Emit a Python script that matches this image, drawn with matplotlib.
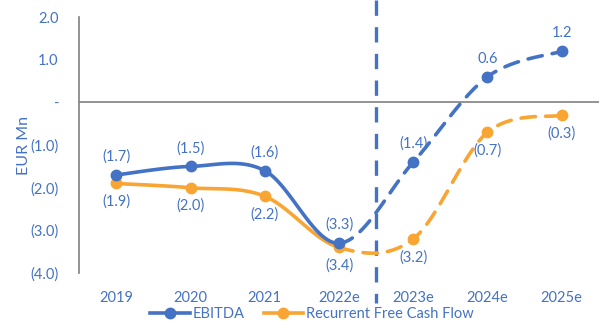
import numpy as np
import matplotlib
matplotlib.use('Agg')
import matplotlib.pyplot as plt
from matplotlib.lines import Line2D

plt.rcParams['font.family'] = ['Lato', 'DejaVu Sans']

years = ['2019', '2020', '2021', '2022e', '2023e', '2024e', '2025e']
ebitda = [-1.7, -1.5, -1.6, -3.3, -1.4, 0.6, 1.2]
fcf = [-1.9, -2.0, -2.2, -3.4, -3.2, -0.7, -0.3]
ytick_vals = [2, 1, 0, -1, -2, -3, -4]
ytick_labels = ['2.0', '1.0', '-', '(1.0)', '(2.0)', '(3.0)', '(4.0)']

BLUE = '#4472C4'
ORANGE = '#F9A533'
split = 3  # index of 2022e, actuals end here
FS = 10.5


def fmt(v):
    if v < 0:
        return '(%.1f)' % abs(v)
    return '%.1f' % v


def smooth(xs, ys, n=40):
    # catmull-rom style bezier, close to excel's smoothed line
    p = np.column_stack((xs, ys)).astype(float)
    ext = np.vstack((p[0], p, p[-1]))
    segs = []
    for i in range(len(p) - 1):
        p0, p1, p2, p3 = ext[i], ext[i + 1], ext[i + 2], ext[i + 3]
        c1 = p1 + (p2 - p0) / 6
        c2 = p2 - (p3 - p1) / 6
        t = np.linspace(0, 1, n)[:, None]
        b = (1 - t) ** 3 * p1 + 3 * (1 - t) ** 2 * t * c1 + 3 * (1 - t) * t ** 2 * c2 + t ** 3 * p2
        segs.append(b)
    return segs


fig = plt.figure(figsize=(6, 3.29), dpi=100)
ax = fig.add_axes([0.132, 0.17, 0.866, 0.778])

x = np.arange(len(years))

for vals, col in [(fcf, ORANGE), (ebitda, BLUE)]:
    segs = smooth(x, vals)
    solid = np.vstack(segs[:split])
    dashed = np.vstack(segs[split:])
    ax.plot(solid[:, 0], solid[:, 1], color=col, lw=2.6, solid_capstyle='round', zorder=3)
    ax.plot(dashed[:, 0], dashed[:, 1], color=col, lw=2.6, dashes=(4.0, 2.8),
            dash_capstyle='round', zorder=3)
    ax.plot(x, vals, 'o', color=col, ms=7.5, zorder=4)

for i, v in enumerate(ebitda):
    ax.annotate(fmt(v), (x[i], v), xytext=(0, 8), textcoords='offset points',
                ha='center', va='bottom', color=BLUE, fontsize=FS)
for i, v in enumerate(fcf):
    ax.annotate(fmt(v), (x[i], v), xytext=(0, -8), textcoords='offset points',
                ha='center', va='top', color=BLUE, fontsize=FS)

ax.axhline(0, color='#808080', lw=1.2, zorder=1)
ax.plot([split + 0.5, split + 0.5], [2.4, -4.7], color=BLUE, lw=2.4,
        dashes=(4.6, 3.4), clip_on=False, zorder=2)

ax.set_xlim(-0.5, len(years) - 0.5)
ax.set_ylim(-4, 2)
ax.set_xticks(x)
ax.set_xticklabels(years)
ax.set_yticks(ytick_vals)
ax.set_yticklabels(ytick_labels)
ax.tick_params(axis='both', length=0, colors=BLUE, labelsize=FS)
ax.tick_params(axis='x', pad=13)
ax.tick_params(axis='y', pad=15)

for s in ['top', 'right', 'bottom']:
    ax.spines[s].set_visible(False)
ax.spines['left'].set_color('#808080')
ax.spines['left'].set_linewidth(1.2)

ax.set_ylabel('EUR Mn', color=BLUE, fontsize=11.5)
ax.yaxis.set_label_coords(-0.093, 0.5)

handles = [Line2D([], [], color=BLUE, lw=2.6, marker='o', ms=7.5),
           Line2D([], [], color=ORANGE, lw=2.6, marker='o', ms=7.5)]
fig.legend(handles, ['EBITDA', 'Recurrent Free Cash Flow'], loc='lower center',
           bbox_to_anchor=(0.52, -0.015), ncol=2, frameon=False, fontsize=FS,
           labelcolor=BLUE, handlelength=2.7, handletextpad=0.2, columnspacing=1.3)

fig.savefig('out.png', dpi=100)
